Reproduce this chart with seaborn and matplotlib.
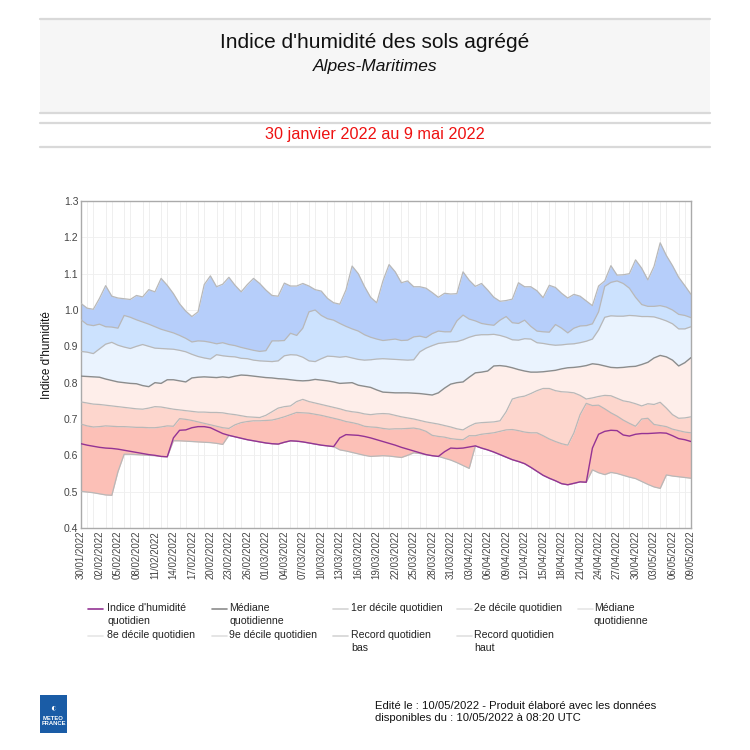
import numpy as np
import pandas as pd
import matplotlib
matplotlib.use("Agg")
import matplotlib.pyplot as plt
from matplotlib.lines import Line2D
from matplotlib.patches import Rectangle
import seaborn as sns

# Période : 30/01/2022 -> 09/05/2022 (100 jours)
dates = pd.date_range("2022-01-30", "2022-05-09", freq="D")

indice = [
    0.632, 0.628, 0.625, 0.622, 0.620, 0.619, 0.617, 0.614, 0.611, 0.608,
    0.605, 0.602, 0.600, 0.597, 0.596, 0.648, 0.669, 0.670, 0.676, 0.679,
    0.679, 0.676, 0.668, 0.660, 0.655, 0.651, 0.647, 0.643, 0.640, 0.637,
    0.634, 0.632, 0.631, 0.636, 0.640, 0.639, 0.637, 0.634, 0.631, 0.628,
    0.626, 0.624, 0.648, 0.657, 0.656, 0.655, 0.652, 0.648, 0.643, 0.638,
    0.633, 0.628, 0.622, 0.617, 0.612, 0.607, 0.602, 0.599, 0.597, 0.610,
    0.620, 0.619, 0.620, 0.623, 0.626, 0.620, 0.615, 0.609, 0.602, 0.595,
    0.588, 0.583, 0.577, 0.567, 0.556, 0.545, 0.537, 0.530, 0.522, 0.519,
    0.523, 0.527, 0.526, 0.620, 0.658, 0.666, 0.669, 0.668, 0.656, 0.653,
    0.658, 0.660, 0.660, 0.661, 0.662, 0.661, 0.654, 0.646, 0.643, 0.638,
]
record_bas = [
    0.501, 0.499, 0.497, 0.494, 0.491, 0.490, 0.555, 0.603, 0.603, 0.602,
    0.601, 0.600, 0.599, 0.597, 0.596, 0.640, 0.640, 0.639, 0.638, 0.637,
    0.636, 0.635, 0.633, 0.630, 0.655, 0.651, 0.647, 0.643, 0.640, 0.637,
    0.634, 0.632, 0.631, 0.636, 0.640, 0.639, 0.637, 0.634, 0.631, 0.628,
    0.626, 0.624, 0.615, 0.612, 0.608, 0.604, 0.600, 0.597, 0.598, 0.599,
    0.598, 0.596, 0.594, 0.600, 0.607, 0.605, 0.602, 0.599, 0.597, 0.592,
    0.587, 0.580, 0.572, 0.564, 0.626, 0.620, 0.615, 0.609, 0.602, 0.595,
    0.588, 0.583, 0.577, 0.567, 0.556, 0.545, 0.537, 0.530, 0.522, 0.519,
    0.523, 0.527, 0.526, 0.560, 0.552, 0.547, 0.553, 0.550, 0.545, 0.540,
    0.536, 0.528, 0.520, 0.513, 0.509, 0.546, 0.543, 0.541, 0.539, 0.537,
]
decile_1 = [
    0.686, 0.681, 0.678, 0.679, 0.681, 0.680, 0.679, 0.679, 0.678, 0.677,
    0.677, 0.676, 0.676, 0.678, 0.681, 0.680, 0.701, 0.699, 0.696, 0.692,
    0.688, 0.684, 0.680, 0.676, 0.674, 0.684, 0.690, 0.693, 0.695, 0.695,
    0.696, 0.697, 0.701, 0.706, 0.712, 0.718, 0.717, 0.716, 0.713, 0.710,
    0.706, 0.702, 0.698, 0.693, 0.690, 0.686, 0.680, 0.678, 0.677, 0.674,
    0.672, 0.673, 0.673, 0.674, 0.675, 0.672, 0.666, 0.655, 0.652, 0.650,
    0.646, 0.644, 0.643, 0.654, 0.654, 0.658, 0.660, 0.662, 0.666, 0.670,
    0.671, 0.668, 0.664, 0.662, 0.662, 0.654, 0.645, 0.638, 0.632, 0.628,
    0.662, 0.712, 0.743, 0.737, 0.738, 0.728, 0.717, 0.708, 0.697, 0.688,
    0.680, 0.700, 0.702, 0.685, 0.682, 0.679, 0.672, 0.668, 0.664, 0.662,
]
decile_2 = [
    0.747, 0.744, 0.741, 0.740, 0.738, 0.736, 0.734, 0.732, 0.730, 0.728,
    0.727, 0.730, 0.734, 0.733, 0.730, 0.727, 0.725, 0.723, 0.721, 0.719,
    0.719, 0.718, 0.718, 0.717, 0.714, 0.712, 0.709, 0.706, 0.705, 0.704,
    0.710, 0.720, 0.730, 0.734, 0.736, 0.748, 0.754, 0.748, 0.744, 0.740,
    0.736, 0.732, 0.728, 0.723, 0.720, 0.718, 0.714, 0.712, 0.714, 0.715,
    0.714, 0.710, 0.706, 0.703, 0.700, 0.696, 0.692, 0.689, 0.686, 0.682,
    0.678, 0.673, 0.670, 0.680, 0.688, 0.690, 0.691, 0.692, 0.695, 0.720,
    0.755, 0.760, 0.763, 0.770, 0.778, 0.784, 0.784, 0.778, 0.775, 0.774,
    0.772, 0.765, 0.755, 0.758, 0.762, 0.765, 0.764, 0.757, 0.750, 0.747,
    0.742, 0.736, 0.742, 0.740, 0.746, 0.730, 0.712, 0.702, 0.703, 0.706,
]
mediane = [
    0.818, 0.817, 0.816, 0.815, 0.810, 0.806, 0.802, 0.800, 0.798, 0.797,
    0.792, 0.789, 0.800, 0.798, 0.808, 0.808, 0.805, 0.802, 0.813, 0.815,
    0.816, 0.815, 0.814, 0.816, 0.814, 0.818, 0.821, 0.820, 0.818, 0.816,
    0.814, 0.813, 0.811, 0.810, 0.808, 0.806, 0.805, 0.806, 0.809, 0.807,
    0.805, 0.802, 0.798, 0.799, 0.800, 0.793, 0.790, 0.787, 0.780, 0.774,
    0.773, 0.772, 0.772, 0.772, 0.771, 0.770, 0.768, 0.766, 0.772, 0.785,
    0.796, 0.800, 0.802, 0.815, 0.827, 0.829, 0.832, 0.846, 0.847, 0.845,
    0.841, 0.836, 0.832, 0.829, 0.829, 0.830, 0.832, 0.834, 0.838, 0.841,
    0.842, 0.844, 0.847, 0.852, 0.850, 0.846, 0.842, 0.841, 0.842, 0.844,
    0.845, 0.850, 0.856, 0.868, 0.875, 0.871, 0.862, 0.846, 0.855, 0.869,
]
decile_8 = [
    0.886, 0.884, 0.880, 0.893, 0.906, 0.911, 0.903, 0.898, 0.894, 0.900,
    0.905, 0.900, 0.895, 0.894, 0.893, 0.892, 0.889, 0.885, 0.878, 0.872,
    0.868, 0.865, 0.877, 0.874, 0.872, 0.871, 0.867, 0.866, 0.862, 0.860,
    0.859, 0.858, 0.860, 0.874, 0.877, 0.876, 0.870, 0.860, 0.858, 0.866,
    0.873, 0.872, 0.870, 0.872, 0.868, 0.864, 0.862, 0.863, 0.865, 0.866,
    0.865, 0.864, 0.863, 0.862, 0.863, 0.885, 0.895, 0.902, 0.908, 0.910,
    0.912, 0.913, 0.918, 0.925, 0.930, 0.932, 0.932, 0.933, 0.930, 0.925,
    0.918, 0.917, 0.921, 0.920, 0.910, 0.908, 0.905, 0.903, 0.904, 0.906,
    0.907, 0.910, 0.914, 0.920, 0.945, 0.980, 0.984, 0.983, 0.983, 0.985,
    0.984, 0.982, 0.982, 0.981, 0.976, 0.970, 0.962, 0.948, 0.948, 0.954,
]
decile_9 = [
    0.973, 0.960, 0.957, 0.961, 0.954, 0.953, 0.950, 0.985, 0.980, 0.973,
    0.967, 0.961, 0.954, 0.947, 0.942, 0.937, 0.930, 0.922, 0.912, 0.915,
    0.914, 0.911, 0.907, 0.910, 0.905, 0.902, 0.897, 0.893, 0.889, 0.886,
    0.888, 0.915, 0.915, 0.916, 0.936, 0.930, 0.950, 0.995, 1.000, 0.985,
    0.976, 0.972, 0.963, 0.955, 0.948, 0.942, 0.932, 0.925, 0.920, 0.916,
    0.918, 0.920, 0.916, 0.917, 0.926, 0.928, 0.924, 0.935, 0.942, 0.940,
    0.940, 0.970, 0.986, 0.975, 0.970, 0.963, 0.960, 0.958, 0.972, 0.982,
    0.965, 0.963, 0.972, 0.955, 0.942, 0.940, 0.939, 0.960, 0.950, 0.937,
    0.950, 0.956, 0.957, 0.962, 0.995, 1.065, 1.076, 1.080, 1.073, 1.060,
    1.035, 1.015, 1.010, 1.010, 1.012, 1.008, 1.000, 0.988, 0.985, 0.979,
]
record_haut = [
    1.018, 1.005, 1.002, 1.032, 1.067, 1.038, 1.033, 1.031, 1.029, 1.040,
    1.036, 1.056, 1.050, 1.087, 1.068, 1.045, 1.017, 0.997, 0.982, 0.995,
    1.070, 1.094, 1.064, 1.071, 1.090, 1.068, 1.050, 1.070, 1.087, 1.073,
    1.055, 1.040, 1.038, 1.074, 1.066, 1.066, 1.073, 1.066, 1.056, 1.052,
    1.032, 1.020, 1.016, 1.055, 1.121, 1.100, 1.065, 1.035, 1.020, 1.080,
    1.125, 1.105, 1.075, 1.080, 1.064, 1.064, 1.060, 1.048, 1.035, 1.046,
    1.044, 1.045, 1.105, 1.082, 1.065, 1.073, 1.055, 1.035, 1.024, 1.026,
    1.030, 1.075, 1.064, 1.064, 1.053, 1.034, 1.068, 1.062, 1.046, 1.033,
    1.043, 1.038, 1.025, 1.012, 1.066, 1.080, 1.122, 1.096, 1.097, 1.100,
    1.138, 1.115, 1.083, 1.120, 1.185, 1.150, 1.122, 1.090, 1.067, 1.043,
]

y_ticks = [0.4, 0.5, 0.6, 0.7, 0.8, 0.9, 1.0, 1.1, 1.2, 1.3]

legend_labels = [
    "Indice d'humidité\nquotidien", "Médiane\nquotidienne", "1er décile quotidien",
    "2e décile quotidien", "Médiane\nquotidienne", "8e décile quotidien",
    "9e décile quotidien", "Record quotidien\nbas", "Record quotidien\nhaut",
]

sns.set_theme(style="white")
plt.rcParams["font.family"] = ["Liberation Sans", "DejaVu Sans"]

fig = plt.figure(figsize=(7.5, 7.5), dpi=100)
W = H = 750.0


def fx(px):
    return px / W


def fy(py):
    return 1 - py / H


# En-tête
fig.patches.append(Rectangle((fx(40), fy(113)), fx(670), 95 / H, transform=fig.transFigure,
                             facecolor="#f6f6f6", edgecolor="none", zorder=0))
for yy in (19, 113, 123, 147):
    fig.add_artist(Line2D([fx(40), fx(710)], [fy(yy), fy(yy)], color="#d9d9d9", lw=1.6))
fig.text(0.5, fy(43), "Indice d'humidité des sols agrégé", ha="center", va="center",
         fontsize=15, color="#111111")
fig.text(0.5, fy(66), "Alpes-Maritimes", ha="center", va="center", fontsize=12.5,
         style="italic", color="#111111")
fig.text(0.5, fy(134), "30 janvier 2022 au 9 mai 2022", ha="center", va="center",
         fontsize=11.7, color="#ee1111")

# Graphique
ax = fig.add_axes([fx(81), fy(528), fx(610), 327 / H])
bands = [
    (record_bas, decile_1, "#fcc0b7"),
    (decile_1, decile_2, "#fdd6cd"),
    (decile_2, mediane, "#feeeea"),
    (mediane, decile_8, "#eaf3fe"),
    (decile_8, decile_9, "#cce2fe"),
    (decile_9, record_haut, "#b6cefa"),
]
for lo, hi, col in bands:
    ax.fill_between(dates, lo, hi, color=col, lw=0, zorder=2)

for serie in (record_bas, decile_1, decile_2, decile_8, decile_9, record_haut):
    sns.lineplot(x=dates, y=serie, ax=ax, color="#b8b8b8", lw=0.9, zorder=3)
sns.lineplot(x=dates, y=mediane, ax=ax, color="#8c8c8c", lw=1.0, zorder=3)
sns.lineplot(x=dates, y=indice, ax=ax, color="#943394", lw=1.0, zorder=4)

ax.set_xlim(dates[0], dates[-1])
ax.set_ylim(0.4, 1.3)
ax.set_yticks(y_ticks)
ax.set_yticklabels([f"{v:.1f}" for v in y_ticks], fontsize=7.5, color="#444444")
ax.set_xticks(dates[::3])
ax.set_xticklabels([d.strftime("%d/%m/%Y") for d in dates[::3]], rotation=90,
                   fontsize=7, color="#444444")
ax.set_xticks(dates, minor=True)
ax.tick_params(axis="both", which="both", length=0, pad=2)
ax.grid(axis="x", which="minor", color="#ececec", lw=0.6, zorder=0)
ax.grid(axis="y", which="major", color="#efefef", lw=0.6, zorder=0)
ax.set_axisbelow(True)
ax.set_xlabel("")
ax.set_ylabel("Indice d'humidité", fontsize=8.5, color="#111111")
ax.yaxis.set_label_coords(-0.046, 0.53)
for sp in ax.spines.values():
    sp.set_color("#aaaaaa")
    sp.set_linewidth(1.0)

# Légende
leg_colors = ["#943394", "#8c8c8c", "#d4d4d4", "#e0e0e0", "#e6e6e6",
              "#e6e6e6", "#e0e0e0", "#d4d4d4", "#e0e0e0"]
handle_x = [88, 212, 333, 457, 578]
text_x = [107, 229, 351, 474, 594]
row_y = [609, 636]
for k, (lab, col) in enumerate(zip(legend_labels, leg_colors)):
    r, c = divmod(k, 5)
    yy = row_y[r]
    fig.add_artist(Line2D([fx(handle_x[c]), fx(handle_x[c] + 15)], [fy(yy), fy(yy)],
                          color=col, lw=1.2))
    fig.text(fx(text_x[c]), fy(yy - 6), lab, ha="left", va="top", fontsize=7.6,
             color="#222222", linespacing=1.35)

# Pied de page
fig.patches.append(Rectangle((fx(40), fy(733)), fx(27), 38 / H, transform=fig.transFigure,
                             facecolor="#1a5ca6", edgecolor="none"))
fig.text(fx(53.5), fy(707), "◐", ha="center", va="center", fontsize=7, color="white")
fig.text(fx(53.5), fy(721), "METEO\nFRANCE", ha="center", va="center", fontsize=4.2,
         color="white", fontweight="bold", linespacing=1.1)
fig.text(fx(375), fy(712), "Edité le : 10/05/2022 - Produit élaboré avec les données\n"
         "disponibles du : 10/05/2022 à 08:20 UTC", ha="left", va="center",
         fontsize=8.1, color="#111111", linespacing=1.3)

fig.savefig("out.png", dpi=100)
